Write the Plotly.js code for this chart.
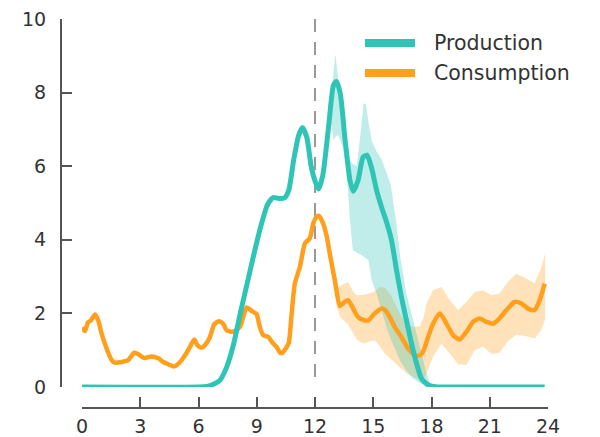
<!DOCTYPE html>
<html>
<head>
<meta charset="utf-8">
<script src="https://cdn.plot.ly/plotly-3.0.1.min.js"></script>
<style>html,body{margin:0;padding:0;background:#fff;}#chart{width:600px;height:437px;}</style>
</head>
<body>
<div id="chart"></div>
<script>
// ---- data (hours of day, values) ----
const prodHours = [0, 6.0, 6.5, 6.8, 7.1, 7.45, 7.8, 8.15, 8.5, 8.85, 9.2, 9.55, 9.85, 10.2, 10.45, 10.65, 10.9, 11.15, 11.35, 11.58, 11.8, 12.0, 12.18, 12.4, 12.7, 12.95, 13.1, 13.3, 13.55, 13.8, 13.97, 14.22, 14.48, 14.68, 14.92, 15.17, 15.42, 15.68, 15.94, 16.2, 16.45, 16.71, 16.97, 17.23, 17.48, 17.74, 18.0, 18.3, 20.0, 22.0, 23.83];
const prodValues = [0, 0, 0.02, 0.08, 0.18, 0.54, 1.15, 2.0, 2.8, 3.6, 4.35, 4.95, 5.15, 5.12, 5.15, 5.35, 6.16, 6.82, 7.05, 6.78, 6.0, 5.6, 5.38, 5.75, 7.07, 8.2, 8.3, 7.98, 6.71, 5.62, 5.32, 5.62, 6.25, 6.3, 5.94, 5.35, 4.9, 4.49, 3.99, 3.17, 2.45, 1.81, 1.18, 0.64, 0.23, 0.09, 0.02, 0, 0, 0, 0];

const prodBandHours = [12.8, 12.95, 13.05, 13.2, 13.45, 13.62, 13.8, 13.95, 14.15, 14.35, 14.5, 14.62, 14.75, 14.92, 15.17, 15.42, 15.68, 15.9, 16.15, 16.4, 16.7, 17.05, 17.4, 17.75, 17.95];
const prodBandUpper = [7.7, 8.6, 9.05, 8.35, 7.25, 6.7, 6.16, 6.05, 6.0, 6.9, 7.7, 7.7, 7.2, 6.7, 6.4, 6.2, 5.82, 5.5, 4.6, 3.5, 2.55, 1.81, 1.09, 0.36, 0.05];
const prodBandLower = [7.3, 6.7, 6.8, 6.85, 6.5, 5.98, 4.53, 3.72, 3.65, 3.6, 3.55, 3.5, 3.45, 2.9, 2.54, 2.09, 1.63, 1.3, 1.0, 0.7, 0.45, 0.23, 0.1, 0.05, 0.02];

const consHours = [0, 0.15, 0.3, 0.46, 0.67, 0.84, 1.01, 1.27, 1.53, 1.7, 2.04, 2.38, 2.69, 2.9, 3.21, 3.59, 3.93, 4.19, 4.44, 4.7, 4.87, 5.13, 5.39, 5.56, 5.78, 5.95, 6.16, 6.37, 6.59, 6.81, 7.05, 7.27, 7.45, 7.79, 8.13, 8.48, 8.73, 8.99, 9.16, 9.33, 9.59, 9.85, 10.02, 10.19, 10.3, 10.5, 10.65, 10.79, 10.96, 11.22, 11.48, 11.73, 11.91, 12.1, 12.2, 12.42, 12.6, 12.76, 13.02, 13.28, 13.5, 13.7, 13.9, 14.22, 14.5, 14.74, 15.08, 15.42, 15.6, 15.8, 16.11, 16.45, 16.8, 17.14, 17.4, 17.6, 17.82, 18.08, 18.43, 18.77, 19.11, 19.45, 19.8, 20.14, 20.48, 20.83, 21.17, 21.5, 21.86, 22.28, 22.63, 22.97, 23.31, 23.57, 23.83];
const consValues = [1.62, 1.52, 1.75, 1.81, 1.97, 1.8, 1.45, 1.04, 0.73, 0.66, 0.68, 0.73, 0.93, 0.89, 0.79, 0.83, 0.78, 0.68, 0.62, 0.56, 0.59, 0.73, 0.93, 1.09, 1.29, 1.13, 1.07, 1.16, 1.36, 1.7, 1.79, 1.72, 1.54, 1.5, 1.63, 2.16, 2.07, 1.98, 1.63, 1.41, 1.36, 1.18, 1.09, 0.94, 0.92, 1.05, 1.2, 1.95, 2.81, 3.26, 3.9, 4.04, 4.44, 4.64, 4.65, 4.44, 4.1, 3.63, 2.9, 2.2, 2.3, 2.36, 2.2, 1.9, 1.82, 1.81, 2.0, 2.13, 2.1, 1.95, 1.63, 1.36, 1.04, 0.87, 0.86, 1.0, 1.35, 1.72, 2.0, 1.72, 1.41, 1.29, 1.5, 1.77, 1.86, 1.77, 1.72, 1.86, 2.09, 2.31, 2.27, 2.13, 2.09, 2.36, 2.81];

const consBandHours = [13.1, 13.3, 13.7, 13.96, 14.14, 14.48, 14.9, 15.08, 15.34, 15.6, 15.9, 16.37, 16.7, 17.05, 17.4, 17.6, 17.74, 18.08, 18.51, 18.94, 19.37, 19.8, 20.23, 20.65, 21.09, 21.5, 21.94, 22.37, 22.89, 23.31, 23.66, 23.85];
const consBandUpper = [2.65, 2.75, 2.85, 2.6, 2.49, 2.5, 2.56, 2.6, 2.72, 2.7, 2.5, 2.0, 1.75, 1.63, 1.65, 1.9, 2.27, 2.63, 2.72, 2.36, 2.09, 2.31, 2.58, 2.63, 2.49, 2.54, 2.86, 3.08, 2.95, 2.81, 3.26, 3.63];
const consBandLower = [2.2, 1.9, 1.7, 1.45, 1.3, 1.18, 1.25, 1.27, 1.1, 0.91, 0.75, 0.54, 0.38, 0.27, 0.2, 0.22, 0.35, 0.82, 1.18, 0.91, 0.62, 0.6, 1.0, 1.1, 0.9, 0.93, 1.25, 1.42, 1.38, 1.32, 1.55, 1.85];

const seriesNames = ['Production', 'Consumption'];
const xTicks = [0, 3, 6, 9, 12, 15, 18, 21, 24];
const yTicks = [0, 2, 4, 6, 8, 10];
const markerHour = 12;

// ---- styling ----
const TEAL = '#2EC4B6';
const ORANGE = '#FF9F1C';
const AXIS = '#555555';
const TEXT = '#333333';
const FONT = 'DejaVu Sans, sans-serif';

function band(xs, up, lo) {
  return { x: xs.concat(xs.slice().reverse()), y: up.concat(lo.slice().reverse()) };
}
const pb = band(prodBandHours, prodBandUpper, prodBandLower);
const cb = band(consBandHours, consBandUpper, consBandLower);

const traces = [
  { x: cb.x, y: cb.y, type: 'scatter', mode: 'lines', fill: 'toself',
    fillcolor: 'rgba(255,159,28,0.3)', line: { width: 0, color: 'rgba(0,0,0,0)' }, hoverinfo: 'skip', showlegend: false },
  { x: pb.x, y: pb.y, type: 'scatter', mode: 'lines', fill: 'toself',
    fillcolor: 'rgba(46,196,182,0.3)', line: { width: 0, color: 'rgba(0,0,0,0)' }, hoverinfo: 'skip', showlegend: false },
  { x: consHours, y: consValues, type: 'scatter', mode: 'lines', name: seriesNames[1],
    line: { color: ORANGE, width: 4.5, shape: 'spline', smoothing: 0.6 }, showlegend: false },
  { x: prodHours, y: prodValues, type: 'scatter', mode: 'lines', name: seriesNames[0],
    line: { color: TEAL, width: 5, shape: 'spline', smoothing: 0.6 }, showlegend: false }
];

const W = 600, H = 437;
const M = { l: 61, r: 52, t: 19, b: 29 };
const PW = W - M.l - M.r, PH = H - M.t - M.b;
function px(x) { return (x - M.l) / PW; }
function py(y) { return (H - M.b - y) / PH; }

const legendItems = [
  { name: seriesNames[0], color: TEAL, y: 43 },
  { name: seriesNames[1], color: ORANGE, y: 73 }
];

const shapes = [
  { type: 'line', xref: 'x', yref: 'y', x0: markerHour, x1: markerHour, y0: 10, y1: 0,
    line: { color: '#999999', width: 2, dash: '13px,10px' }, layer: 'below' }
];
const annotations = [];
legendItems.forEach(it => {
  shapes.push({ type: 'line', xref: 'paper', yref: 'paper', x0: px(365), x1: px(415), y0: py(it.y), y1: py(it.y),
    line: { color: it.color, width: 8 } });
  annotations.push({ xref: 'paper', yref: 'paper', x: px(432), y: py(it.y), xanchor: 'left', yanchor: 'middle',
    text: it.name, showarrow: false, font: { family: FONT, size: 20.5, color: TEXT } });
});

const layout = {
  width: W, height: H,
  margin: M,
  paper_bgcolor: '#fff', plot_bgcolor: '#fff',
  showlegend: false,
  xaxis: {
    range: [0, 24], domain: [21 / PW, 1], anchor: 'free', position: 0,
    tickvals: xTicks, ticktext: xTicks.map(String),
    ticks: 'inside', ticklen: 10, tickwidth: 2, tickcolor: AXIS,
    showline: true, linecolor: AXIS, linewidth: 2,
    showgrid: false, zeroline: false, automargin: false,
    ticklabelstandoff: 1,
    tickfont: { family: FONT, size: 19, color: TEXT }
  },
  yaxis: {
    range: [0, 10], domain: [21 / PH, 1], anchor: 'free', position: 0,
    tickvals: yTicks, ticktext: yTicks.map(String),
    ticks: 'inside', ticklen: 10, tickwidth: 2, tickcolor: AXIS,
    showline: true, linecolor: AXIS, linewidth: 2,
    showgrid: false, zeroline: false, automargin: false,
    ticklabelstandoff: 10,
    tickfont: { family: FONT, size: 19, color: TEXT }
  },
  shapes: shapes,
  annotations: annotations
};

Plotly.newPlot('chart', traces, layout, { displayModeBar: false, staticPlot: true });
</script>
</body>
</html>
